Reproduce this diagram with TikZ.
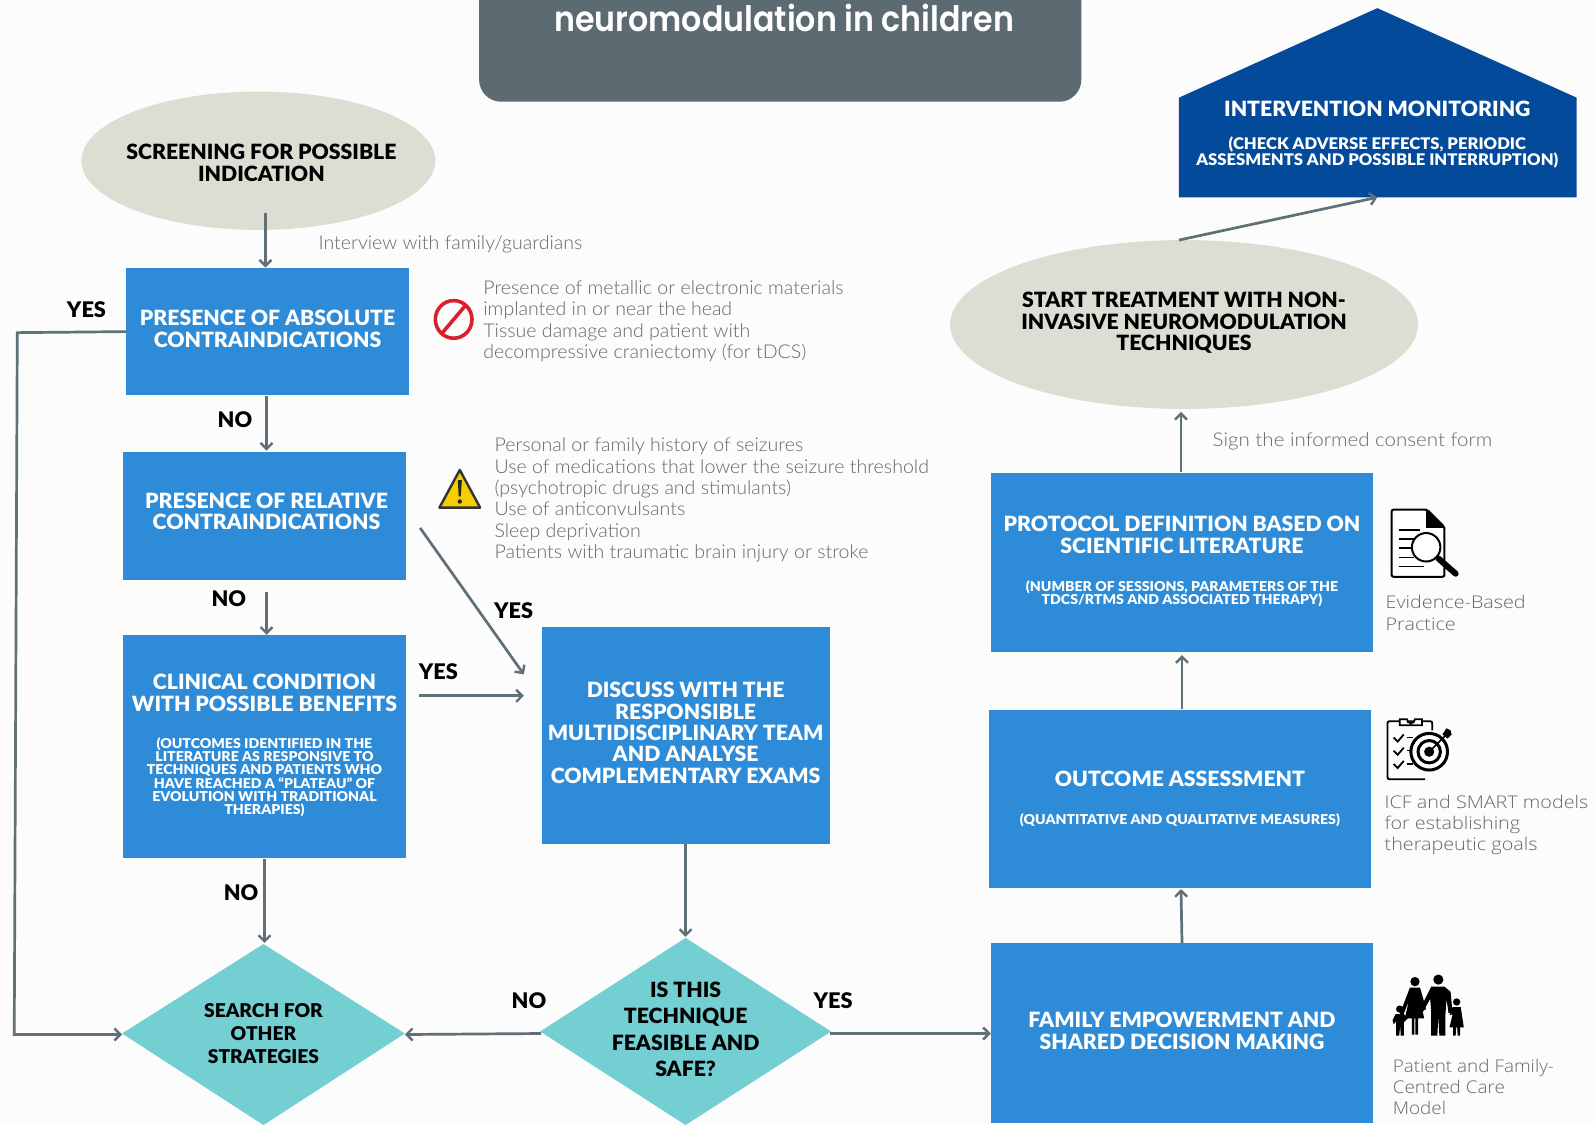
\documentclass[tikz,border=0pt]{standalone}
\usepackage{fontspec}
\usetikzlibrary{arrows.meta,shapes.geometric}
\setmainfont{Lato}
\newfontfamily\headfont{Lato}[UprightFont=* Black,FakeStretch=1.01]
\newfontfamily\subfont{Lato}[UprightFont=* Black,FakeStretch=1.04]
\newfontfamily\thinfont{Lato Light}[FakeStretch=1.03]
\newfontfamily\thinwide{Lato Light}[FakeStretch=1.08]
\newfontfamily\widefont{Open Sans Light}[FakeStretch=1.13]
\newfontfamily\wideb{Open Sans Light}[FakeStretch=1.08]
\newfontfamily\titlefont{Poppins SemiBold}[FakeStretch=0.905]
\definecolor{blueA}{HTML}{2E8BD8}
\definecolor{navyA}{HTML}{044A9B}
\definecolor{sandA}{HTML}{DEDDD3}
\definecolor{tealA}{HTML}{74CFD3}
\definecolor{slateA}{HTML}{5C6B72}
\definecolor{lineA}{HTML}{5F7077}
\definecolor{greyT}{HTML}{676767}
\definecolor{redA}{HTML}{D8202C}
\definecolor{yelA}{HTML}{F4CE00}
\tikzset{
 sz/.style 2 args={minimum width=#1*1.0172pt,minimum height=#2*1.0172pt,inner sep=0pt},
 bluebox/.style={fill=blueA,draw=none},
 lens/.style={ellipse,fill=sandA},
 headw/.style={text=white,align=center,inner sep=0pt,font=\headfont\fontsize{21}{21.6}\selectfont},
 headb/.style={text=black,align=center,inner sep=0pt,font=\headfont\fontsize{21}{21.6}\selectfont},
 smallcaps/.style={text=white,align=center,inner sep=0pt,font=\subfont\fontsize{13.6}{13.2}\selectfont},
 caption/.style={text=greyT,align=left,anchor=west,inner sep=0pt,font=\thinfont\fontsize{19}{21.4}\selectfont},
 wcaption/.style={text=greyT,align=left,anchor=west,inner sep=0pt,font=\widefont\fontsize{17.5}{21.4}\selectfont},
 flag/.style={text=black,inner sep=0pt,font=\headfont\fontsize{21.5}{22}\selectfont},
 arr/.style={draw=lineA,line width=2.7pt,-{Straight Barb[length=6pt,width=12pt,line width=2.4pt]}},
 glyph/.style={fill=black,draw=none},
}
\begin{document}
\begin{tikzpicture}[x=1.0172pt,y=-1.0172pt]
\useasboundingbox (0,0) rectangle (1568,1106);
\fill[white!99!black] (0,0) rectangle (1568,1106);
% title
\begin{scope}
\clip (0,0) rectangle (1568,1106);
\fill[slateA,rounded corners=22pt] (471,-60) rectangle (1063,100);
\end{scope}
\node[text=white,inner sep=0pt,font=\titlefont\fontsize{35}{35}\selectfont] (title) at (771,18) {neuromodulation in children};
% house
\fill[navyA] (1159,96) -- (1354,8) -- (1550,96) -- (1550,194) -- (1159,194) -- cycle;
\node[headw] (house) at (1354,107) {INTERVENTION MONITORING};
\node[smallcaps,font=\subfont\fontsize{16}{16.2}\selectfont] (housesub) at (1354,150) {(CHECK ADVERSE EFFECTS, PERIODIC\\ASSESMENTS AND POSSIBLE INTERRUPTION)};
\coordinate (houseport) at (1354,194);
% ellipses
\node[lens,sz={348}{136}] (screen) at (254,158) {};
\node[headb] (screenT) at (257,160) {SCREENING FOR POSSIBLE\\INDICATION};
\node[lens,sz={460}{166}] (start) at (1164,319) {};
\node[headb] (startT) at (1164,317.5) {START TREATMENT WITH NON-\\INVASIVE NEUROMODULATION\\TECHNIQUES};
% blue boxes
\node[bluebox,sz={278}{125}] (absolute) at (263,326) {};
\node[headw] (absoluteT) at (263,323.5) {PRESENCE OF ABSOLUTE\\CONTRAINDICATIONS};
\node[bluebox,sz={278}{126}] (relative) at (260,507) {};
\node[headw] (relativeT) at (262,502.5) {PRESENCE OF RELATIVE\\CONTRAINDICATIONS};
\node[bluebox,sz={278}{219}] (clinical) at (260,734) {};
\node[headw] (clinicalT) at (260,681) {CLINICAL CONDITION\\WITH POSSIBLE BENEFITS};
\node[smallcaps] (clinicalS) at (260,764) {(OUTCOMES IDENTIFIED IN THE\\LITERATURE AS RESPONSIVE TO\\TECHNIQUES AND PATIENTS WHO\\HAVE REACHED A “PLATEAU” OF\\EVOLUTION WITH TRADITIONAL\\THERAPIES)};
\node[bluebox,sz={283}{214}] (discuss) at (674.5,723) {};
\node[headw,font=\headfont\fontsize{21}{21.4}\selectfont] (discussT) at (674,720.5) {DISCUSS WITH THE\\RESPONSIBLE\\MULTIDISCIPLINARY TEAM\\AND ANALYSE\\COMPLEMENTARY EXAMS};
\node[bluebox,sz={376}{177}] (family) at (1162,1015.5) {};
\node[headw] (familyT) at (1162,1013.5) {FAMILY EMPOWERMENT AND\\SHARED DECISION MAKING};
\node[bluebox,sz={376}{175}] (outcome) at (1160,785.5) {};
\node[headw] (outcomeT) at (1160,766) {OUTCOME ASSESSMENT};
\node[smallcaps] (outcomeS) at (1160,806) {(QUANTITATIVE AND QUALITATIVE MEASURES)};
\node[bluebox,sz={376}{176}] (protocol) at (1162,553) {};
\node[headw] (protocolT) at (1162,526) {PROTOCOL DEFINITION BASED ON\\SCIENTIFIC LITERATURE};
\node[smallcaps] (protocolS) at (1162,583.5) {(NUMBER OF SESSIONS, PARAMETERS OF THE\\TDCS/RTMS AND ASSOCIATED THERAPY)};
% diamonds
\fill[tealA] (120,1016) -- (259,928) -- (398,1016) -- (259,1106) -- cycle;
\node[inner sep=0pt,align=center,font=\headfont\fontsize{19}{23.4}\selectfont] (search) at (259,1016) {SEARCH FOR\\OTHER\\STRATEGIES};
\coordinate (searchW) at (120,1017);
\coordinate (searchE) at (398,1017);
\coordinate (searchN) at (260,927);
\fill[tealA] (531,1014) -- (674,922) -- (817,1014) -- (674,1106) -- cycle;
\node[inner sep=0pt,align=center,font=\headfont\fontsize{21}{26.5}\selectfont] (feasible) at (674,1012) {IS THIS\\TECHNIQUE\\FEASIBLE AND\\SAFE?};
\coordinate (feasibleW) at (532,1016);
\coordinate (feasibleE) at (816,1016);
\coordinate (feasibleN) at (674,921);
% free ends
\coordinate (a1) at (261,209);
\coordinate (a1e) at (261,263);
\coordinate (a2) at (262,389);
\coordinate (a2e) at (262,443);
\coordinate (a3) at (262,582);
\coordinate (a3e) at (262,624);
\coordinate (a4) at (260,844);
\coordinate (y1) at (124,326);
\coordinate (y1a) at (17,327);
\coordinate (y1b) at (14,1017);
\coordinate (y2) at (413,519);
\coordinate (y2e) at (515,663);
\coordinate (y3) at (412,684);
\coordinate (y3e) at (515,684);
\coordinate (d1) at (674,830);
\coordinate (f1) at (1162,927);
\coordinate (f1e) at (1161,874);
\coordinate (o1) at (1162,697);
\coordinate (o1e) at (1162,644);
\coordinate (p1) at (1161,464);
\coordinate (p1e) at (1161,405);
\coordinate (s1) at (1159,236);
\coordinate (familyW) at (974,1016);
% connectors
\draw[arr] (a1) -- (a1e);
\draw[arr] (a2) -- (a2e);
\draw[arr] (a3) -- (a3e);
\draw[arr] (a4) -- (searchN);
\draw[arr] (y1) -- (y1a) -- (y1b) -- (searchW);
\draw[arr] (y2) -- (y2e);
\draw[arr] (y3) -- (y3e);
\draw[arr] (d1) -- (feasibleN);
\draw[arr] (feasibleW) -- (searchE);
\draw[arr] (feasibleE) -- (familyW);
\draw[arr] (f1) -- (f1e);
\draw[arr] (o1) -- (o1e);
\draw[arr] (p1) -- (p1e);
\draw[arr] (s1) -- (houseport);
% flags
\node[flag] (l1) at (85,304) {YES};
\node[flag] (l2) at (231,413) {NO};
\node[flag] (l3) at (225,589) {NO};
\node[flag] (l4) at (431,660) {YES};
\node[flag] (l5) at (505,600) {YES};
\node[flag] (l6) at (237,878) {NO};
\node[flag] (l7) at (520,984) {NO};
\node[flag] (l8) at (819,984) {YES};
% captions
\node[caption] (c1) at (313,240) {Interview with family/guardians};
\node[caption] (c2) at (475,316) {Presence of metallic or electronic materials\\implanted in or near the head\\Tissue damage and patient with\\decompressive craniectomy (for tDCS)};
\node[caption] (c3) at (486,491.5) {Personal or family history of seizures\\Use of medications that lower the seizure threshold\\(psychotropic drugs and stimulants)\\Use of anticonvulsants\\Sleep deprivation\\Patients with traumatic brain injury or stroke};
\node[caption,font=\thinwide\fontsize{19}{21.4}\selectfont] (c4) at (1192,434) {Sign the informed consent form};
\node[wcaption] (c5) at (1362,602.5) {Evidence-Based\\Practice};
\node[wcaption] (c6) at (1361,811) {ICF and SMART models\\for establishing\\therapeutic goals};
\node[wcaption,font=\wideb\fontsize{17.5}{21.4}\selectfont] (c7) at (1369,1068.5) {Patient and Family-\\Centred Care\\Model};
% no-entry icon
\draw[redA,line width=3.6pt] (446,314) ellipse (18 and 18.5);
\draw[redA,line width=3.6pt] (435,327) -- (457,301);
% warning icon
\fill[yelA,draw=black!80,line width=2.4pt,line join=round] (432,499) -- (452,462) -- (472,499) -- cycle;
\fill[black!85] (450,472) -- (454,472) -- (453,488) -- (451,488) -- cycle;
\fill[black!85] (452,493) circle (2.2);
% document icon
\draw[black,line width=2pt,rounded corners=2pt,fill=white] (1368,501) -- (1403,501) -- (1420,518) -- (1420,567) -- (1368,567) -- cycle;
\fill[black] (1402,500) -- (1421,519) -- (1402,519) -- cycle;
\draw[black,line width=1.6pt] (1375,521)--(1396,521) (1375,530)--(1390,530) (1375,539)--(1388,539) (1375,548)--(1390,548) (1375,557)--(1400,557);
\draw[black,line width=2pt,fill=white] (1402,538) circle (14);
\draw[black,line width=6pt,line cap=round] (1414,549) -- (1431,564);
% clipboard icon
\draw[black,line width=1.9pt,rounded corners=2pt] (1401,766) -- (1364,766) -- (1364,709) -- (1408,709) -- (1408,718);
\draw[black,line width=1.8pt,fill=white] (1376,713) -- (1376,707) -- (1383,707) arc (180:0:4) -- (1398,707) -- (1398,713) -- cycle;
\foreach \yy in {725,738,751}{\draw[black,line width=1.8pt] (1370,\yy) -- (1374,\yy+4) -- (1380,\yy-3);
 \draw[black,line width=1.4pt] (1383,\yy) -- (1389,\yy);}
\draw[black,line width=3pt,fill=white] (1405,739) circle (18);
\draw[black,line width=3pt] (1405,739) circle (11);
\fill[black] (1405,739) circle (5);
\draw[black,line width=1.6pt] (1405,739) -- (1422,722);
\fill[black] (1418,722) -- (1422,716) -- (1426,718) -- (1427,722) -- (1423,726) -- cycle;
% family icon
\begin{scope}
\fill[black] (1391,965) circle (4.6);
\fill[black] (1414,963) circle (5);
\fill[black] (1376,992) circle (3.6);
\fill[black] (1432,985) circle (3.6);
\fill[glyph] (1386,971) -- (1396,971) -- (1402,992) -- (1398,994) -- (1396,982) -- (1400,1001) -- (1394,1001) -- (1394,1017) -- (1391.5,1017) -- (1391.5,1001) -- (1390.5,1001) -- (1390.5,1017) -- (1388,1017) -- (1388,1001) -- (1381,1001) -- (1385,984) -- (1379,999) -- (1376,997) -- cycle;
\fill[glyph] (1407,970) -- (1420,970) -- (1426,975) -- (1428,996) -- (1424,996) -- (1422,982) -- (1421,997) -- (1421,1018) -- (1415,1018) -- (1414,999) -- (1413,1018) -- (1407,1018) -- (1407,995) -- (1406,982) -- (1398,996) -- (1395,994) -- cycle;
\fill[glyph] (1372,997) -- (1380,997) -- (1384,1001) -- (1380,1005) -- (1380,1018) -- (1377,1018) -- (1376.5,1008) -- (1375.5,1018) -- (1372.5,1018) -- (1372.5,1004) -- (1370,1007) -- (1369,1003) -- cycle;
\fill[glyph] (1428,990) -- (1436,990) -- (1439,1010) -- (1435.5,1010) -- (1435.5,1018) -- (1433,1018) -- (1432.5,1010) -- (1431.5,1010) -- (1431,1018) -- (1428.5,1018) -- (1428.5,1010) -- (1425,1010) -- (1428,997) -- (1425,998) -- cycle;
\end{scope}
\end{tikzpicture}
\end{document}
